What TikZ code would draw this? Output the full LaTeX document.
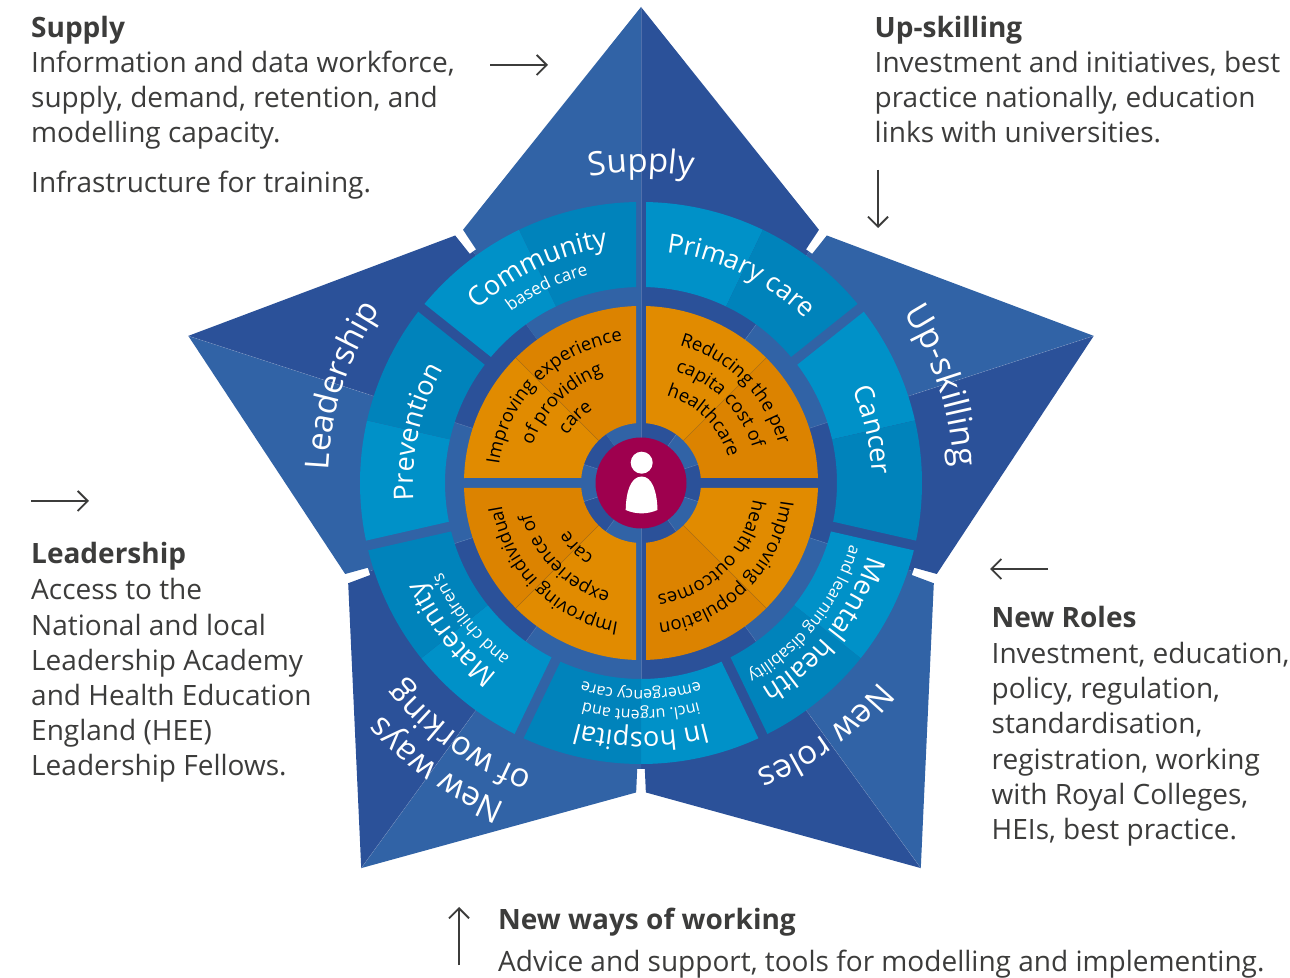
\documentclass[tikz,border=0pt]{standalone}
\usepackage{fontspec}
\usetikzlibrary{decorations.text,arrows.meta}
\setmainfont{Open Sans}
\definecolor{lobeL}{HTML}{3163A6}
\definecolor{lobeD}{HTML}{2B5199}
\definecolor{segL}{HTML}{0091C8}
\definecolor{segD}{HTML}{0083BB}
\definecolor{orL}{HTML}{E18B00}
\definecolor{orD}{HTML}{DC8300}
\definecolor{mag}{HTML}{9E004E}
\definecolor{ink}{HTML}{3C3C3B}
\tikzset{
 blockhead/.style={anchor=base west,inner sep=0pt,text=ink,font=\fontsize{28}{35}\selectfont\bfseries},
 blocktext/.style={anchor=base west,inner sep=0pt,text=ink,align=left,font=\fontsize{28}{35.2}\selectfont},
 sidearrow/.style={draw=ink,line width=1.8pt,-{Straight Barb[length=10pt,width=20pt,line width=1.8pt]}},
 hairline/.style={draw=white,opacity=.18,line width=.5pt},
 orsplit/.style={draw=black,opacity=.12,line width=.5pt},
}
% ring sector: a1 a2 (clockwise a1>a2), gap at a1, gap at a2, r1, r2, colour
\newcommand\ringsec[7]{%
 \pgfmathsetmacro\aA{#1-asin(#3/#6)}\pgfmathsetmacro\aB{#2+asin(#4/#6)}%
 \pgfmathsetmacro\aC{#2+asin(#4/#5)}\pgfmathsetmacro\aD{#1-asin(#3/#5)}%
 \fill[#7] (\aA:#6) arc[start angle=\aA,end angle=\aB,radius=#6] -- (\aC:#5) arc[start angle=\aC,end angle=\aD,radius=#5] -- cycle;}
% curved text: centre angle, half span, radius, colour, font size, text
\newcommand\arctext[6]{%
 \pgfmathsetmacro\aA{#1+#2}\pgfmathsetmacro\aB{#1-#2}%
 \path[decorate,decoration={text along path,text align=center,text color=#4,
   text={|\fontsize{#5}{#5}\selectfont|#6}}]
   (\aA:#3) arc[start angle=\aA,end angle=\aB,radius=#3];}
\begin{document}
\begin{tikzpicture}[x=1pt,y=1pt]
\useasboundingbox[fill=white] (0,0) rectangle (1290,977);
% side texts
\node[blockhead] (h1) at (31,939.5) {Supply};
\node[blocktext] (t1) at (31,834.5) {Information and data workforce,\\supply, demand, retention, and\\modelling capacity.};
\node[blocktext] (t1b) at (31,784.5) {Infrastructure for training.};
\node[blockhead] (h2) at (874.5,939.5) {Up-skilling};
\node[blocktext] (t2) at (874.5,834.5) {Investment and initiatives, best\\practice nationally, education\\links with universities.};
\node[blockhead] (h3) at (31,413.5) {Leadership};
\node[blocktext] (t3) at (31,201) {Access to the\\National and local\\Leadership Academy\\and Health Education\\England (HEE)\\Leadership Fellows.};
\node[blockhead] (h4) at (991.5,349.5) {New Roles};
\node[blocktext] (t4) at (991.5,137.5) {Investment, education,\\policy, regulation,\\standardisation,\\registration, working\\with Royal Colleges,\\HEIs, best practice.};
\node[blockhead] (h5) at (498,48) {New ways of working};
\node[blocktext] (t5) at (498,6) {Advice and support, tools for modelling and implementing.};
% arrows
\coordinate (a1s) at (490,912); \coordinate (a1e) at (548,912);
\coordinate (a2s) at (878,807); \coordinate (a2e) at (878,749);
\coordinate (a3s) at (31,476);  \coordinate (a3e) at (89,476);
\coordinate (a4s) at (1048,408);\coordinate (a4e) at (990,408);
\coordinate (a5s) at (459,12);  \coordinate (a5e) at (459,70);
\draw[sidearrow] (a1s) -- (a1e);
\draw[sidearrow] (a2s) -- (a2e);
\draw[sidearrow] (a3s) -- (a3e);
\draw[sidearrow] (a4s) -- (a4e);
\draw[sidearrow] (a5s) -- (a5e);
\begin{scope}[shift={(641,494)}]
 % lobes: axis angle, light half then dark half (clockwise)
 \foreach \ax in {90,18,-54,-126,-198}{
  \pgfmathsetmacro\cl{\ax+35.1}\pgfmathsetmacro\cr{\ax-35.1}
  \pgfmathsetmacro\sl{\ax+36}\pgfmathsetmacro\sr{\ax-36}
  \fill[lobeL] (0,0) -- (\sl:200) -- (\cl:309.5) -- (\ax:476) -- cycle;
  \fill[lobeD] (0,0) -- (\sr:200) -- (\cr:309.5) -- (\ax:476) -- cycle;
  \fill[lobeL] (0,0) -- (\sl:286) arc[start angle=\sl,end angle=\ax,radius=286] -- cycle;
  \fill[lobeD] (0,0) -- (\sr:286) arc[start angle=\sr,end angle=\ax,radius=286] -- cycle;
  \draw[hairline] (0,0) -- (\ax:476);
  \draw[hairline] (0,0) -- (\sl:200);
 }
 % outer segments
 \foreach \st in {0,1,2,3,4,5,6}{
  \pgfmathsetmacro\sa{90-\st*360/7}\pgfmathsetmacro\sm{\sa-180/7}\pgfmathsetmacro\se{\sa-360/7}
  \ringsec{\sa}{\sm}{5}{0}{196}{281}{segL}
  \ringsec{\sm}{\se}{0}{5}{196}{281}{segD}
 }
 % orange quadrants
 \foreach \st in {0,1,2,3}{
  \pgfmathsetmacro\sa{90-\st*90}\pgfmathsetmacro\sm{\sa-45}\pgfmathsetmacro\se{\sa-90}
  \ringsec{\sa}{\sm}{5}{0}{60}{177}{orL}
  \ringsec{\sm}{\se}{0}{5}{60}{177}{orD}
  \draw[orsplit] (\sm:60) -- (\sm:177);
 }
 \fill[mag] (0,0) circle[radius=45.5];
 % person
 \fill[white] (0.7,20.3) circle[radius=11];
 \fill[white] (-15.3,-27) .. controls (-15,-8) and (-10,6.5) .. (0.7,6.5) .. controls (11,6.5) and (16,-8) .. (16.5,-27) .. controls (6,-31.5) and (-5,-31.5) .. (-15.3,-27) -- cycle;
 % curved labels
 \arctext{90}{40}{311}{white}{33}{Supply}
 \arctext{18}{40}{313}{white}{34}{Up-skilling}
 \arctext{-54}{40}{310}{white}{33}{New roles}
 \arctext{-125.5}{40}{348}{white}{33}{New ways}
 \arctext{-125.5}{40}{310}{white}{33}{of working}
 \arctext{162}{40}{313}{white}{33}{Leadership}
 \arctext{115.7}{40}{238}{white}{27}{Community}
 \arctext{115.7}{40}{215}{white}{17}{based care}
 \arctext{64.3}{40}{232}{white}{26.5}{Primary care}
 \arctext{12.86}{40}{231}{white}{27}{Cancer}
 \arctext{-38.57}{40}{238}{white}{27}{Mental health}
 \arctext{-38.57}{40}{218}{white}{16.5}{and learning disability}
 \arctext{-90}{40}{249}{white}{27}{In hospital}
 \arctext{-90}{40}{227}{white}{16}{incl. urgent and}
 \arctext{-90}{40}{207}{white}{16}{emergency care}
 \arctext{-141.43}{40}{239}{white}{27}{Maternity}
 \arctext{-141.43}{40}{218}{white}{17}{and children's}
 \arctext{167.14}{40}{228}{white}{27}{Prevention}
 \arctext{135}{60}{143}{black}{18.5}{Improving experience}
 \arctext{135}{60}{115}{black}{18.5}{of providing}
 \arctext{135}{60}{88}{black}{18.5}{care}
 \arctext{45}{60}{143}{black}{18.5}{Reducing the per}
 \arctext{45}{60}{117}{black}{18.5}{capita cost of}
 \arctext{45}{60}{91}{black}{18.5}{healthcare}
 \arctext{-45}{60}{141}{black}{18.5}{Improving population}
 \arctext{-45}{60}{113}{black}{18.5}{health outcomes}
 \arctext{-135}{60}{141}{black}{18.5}{Improving individual}
 \arctext{-135}{60}{114}{black}{18.5}{experience of}
 \arctext{-135}{60}{87}{black}{18.5}{care}
\end{scope}
\end{tikzpicture}
\end{document}
